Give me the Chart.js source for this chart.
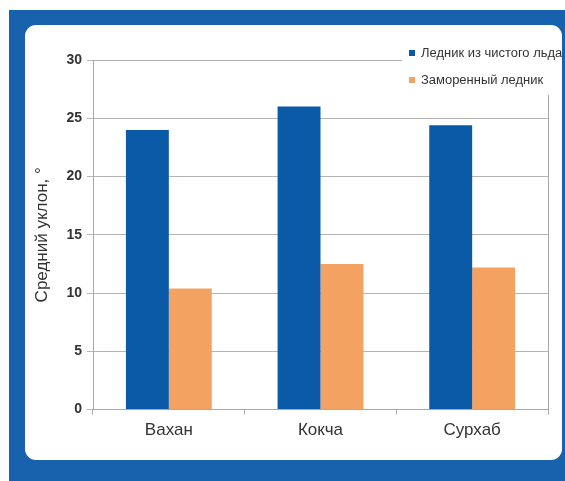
<!DOCTYPE html>
<html>
<head>
<meta charset="utf-8">
<script src="https://cdn.jsdelivr.net/npm/chart.js@4.4.1/dist/chart.umd.min.js"></script>
<style>
  html, body { margin: 0; padding: 0; background: #ffffff; }
  body { width: 565px; height: 481px; position: relative; overflow: hidden; }
  #frame { position: absolute; left: 9px; top: 10px; width: 556px; height: 471px; background: #1761ad; }
  #panel { position: absolute; left: 25px; top: 25px; width: 537px; height: 435px; background: #ffffff; border-radius: 11px; }
  #wrap { position: absolute; left: 0; top: 0; width: 565px; height: 481px; }
</style>
</head>
<body>
<div id="frame"></div>
<div id="panel"></div>
<div id="wrap"><canvas id="chart" width="565" height="481"></canvas></div>
<script>
// Средний уклон поверхности ледников по бассейнам
const categories = ['Вахан', 'Кокча', 'Сурхаб'];
const cleanIce = [24.0, 26.0, 24.4];
const debrisCovered = [10.4, 12.5, 12.2];
const seriesNames = ['Ледник из чистого льда', 'Заморенный ледник'];
const yTicks = [0, 5, 10, 15, 20, 25, 30];

const BLUE = '#0b5aa7';
const ORANGE = '#f4a262';
const FONT = '"Liberation Sans", Arial, sans-serif';

// Legend drawn on a white box overlapping the top-right of the plot
const boxLegend = {
  id: 'boxLegend',
  afterDraw(chart) {
    const ctx = chart.ctx;
    const a = chart.chartArea;
    ctx.save();
    ctx.fillStyle = '#ffffff';
    ctx.fillRect(402, 35, 160, 60);
    const items = chart.data.datasets.map(d => ({ text: d.label, color: d.backgroundColor }));
    const rows = [53, 80];
    items.forEach((it, i) => {
      ctx.fillStyle = it.color;
      ctx.fillRect(409, rows[i] - 3, 6, 6);
      ctx.save();
      ctx.translate(421, rows[i] + 1);
      ctx.scale(1.08, 1);
      ctx.fillStyle = '#333333';
      ctx.font = '12px ' + FONT;
      ctx.textBaseline = 'middle';
      ctx.fillText(it.text, 0, 0);
      ctx.restore();
    });
    // right border of the plot area, below the legend
    ctx.strokeStyle = '#a9a9a9';
    ctx.lineWidth = 1;
    ctx.beginPath();
    ctx.moveTo(Math.round(a.right) + 0.5, 95);
    ctx.lineTo(Math.round(a.right) + 0.5, a.bottom);
    ctx.stroke();
    ctx.restore();
  }
};

new Chart(document.getElementById('chart'), {
  type: 'bar',
  data: {
    labels: categories,
    datasets: [
      { label: seriesNames[0], data: cleanIce, backgroundColor: BLUE },
      { label: seriesNames[1], data: debrisCovered, backgroundColor: ORANGE }
    ]
  },
  options: {
    responsive: false,
    animation: false,
    devicePixelRatio: 1,
    layout: { padding: { top: 60, right: 17, bottom: 34, left: 0 } },
    datasets: { bar: { categoryPercentage: 0.566, barPercentage: 1.0 } },
    plugins: { legend: { display: false }, tooltip: { enabled: false } },
    scales: {
      x: {
        grid: { display: true, drawOnChartArea: false, drawTicks: true, tickLength: 5, color: '#a9a9a9', offset: true },
        border: { display: true, color: '#a9a9a9' },
        ticks: { color: '#333333', padding: 6, font: { family: FONT, size: 17 } }
      },
      y: {
        min: 0,
        max: 30,
        afterBuildTicks(scale) { scale.ticks = yTicks.map(v => ({ value: v })); },
        afterFit(scale) { scale.width = 93; },
        grid: { color: '#b4b4b4', tickLength: 6, drawTicks: true },
        border: { display: true, color: '#a9a9a9' },
        ticks: { color: '#333333', padding: 5, font: { family: FONT, size: 14, weight: 'bold' } },
        title: {
          display: true,
          text: 'Средний уклон, °',
          color: '#333333',
          padding: { top: 32, bottom: 0 },
          font: { family: FONT, size: 17 }
        }
      }
    }
  },
  plugins: [boxLegend]
});
</script>
</body>
</html>
